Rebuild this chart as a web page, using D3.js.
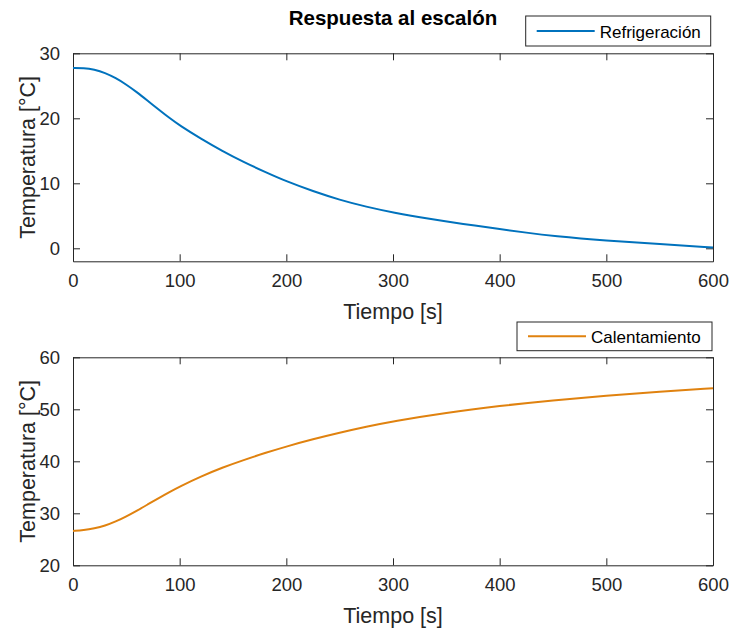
<!DOCTYPE html>
<html>
<head>
<meta charset="utf-8">
<script src="https://cdn.jsdelivr.net/npm/d3@7"></script>
<style>
  body { margin: 0; background: #fff; }
  svg { font-family: "Liberation Sans", Arial, sans-serif; }
</style>
</head>
<body>
<svg id="chart" width="732" height="631"></svg>
<script>
// time samples [s] and step responses [°C]
const timeCool = [0, 10, 20, 30, 40, 50, 60, 70, 80, 90, 100, 120, 140, 160, 180, 200, 225, 250, 275, 300, 335, 365, 400, 425, 450, 500, 550, 600];
const tempCool = [27.75, 27.75, 27.5, 27.0, 26.2, 25.2, 24.0, 22.7, 21.4, 20.1, 18.9, 16.85, 14.97, 13.27, 11.75, 10.3, 8.78, 7.45, 6.38, 5.5, 4.5, 3.75, 2.97, 2.4, 1.9, 1.18, 0.65, 0.12];

const timeHeat = [0, 10, 20, 30, 40, 50, 60, 70, 80, 90, 100, 120, 140, 160, 180, 200, 225, 250, 275, 300, 350, 400, 450, 500, 550, 600];
const tempHeat = [26.6, 26.75, 27.1, 27.6, 28.4, 29.4, 30.5, 31.7, 32.9, 34.05, 35.15, 37.1, 38.8, 40.25, 41.6, 42.85, 44.25, 45.5, 46.65, 47.7, 49.35, 50.65, 51.75, 52.6, 53.4, 54.05];

const xTicks = [0, 100, 200, 300, 400, 500, 600];
const yTicksCool = [0, 10, 20, 30];
const yTicksHeat = [20, 30, 40, 50, 60];

const svg = d3.select("#chart");
const axisColor = "#262626";
const tickLen = 7;

const panels = [
  {
    t: timeCool, v: tempCool, yDomain: [-2, 30], yTicks: yTicksCool,
    top: 53.3, bottom: 261.3, color: "#0072BD", name: "Refrigeración",
    legend: { x: 525.7, y: 16, w: 185, h: 30 }
  },
  {
    t: timeHeat, v: tempHeat, yDomain: [20, 60], yTicks: yTicksHeat,
    top: 357.3, bottom: 565.3, color: "#E0820F", name: "Calentamiento",
    legend: { x: 517, y: 322, w: 195, h: 28.7 }
  }
];

const left = 73, right = 713;

svg.append("text")
  .attr("x", (left + right) / 2)
  .attr("y", 25)
  .attr("text-anchor", "middle")
  .style("font-weight", "bold")
  .style("font-size", "20.5px")
  .attr("fill", "#000")
  .text("Respuesta al escalón");

panels.forEach((p) => {
  const x = d3.scaleLinear().domain([0, 600]).range([left, right]);
  const y = d3.scaleLinear().domain(p.yDomain).range([p.bottom, p.top]);
  const g = svg.append("g");

  // bottom axis
  g.append("g")
    .attr("transform", `translate(0,${p.bottom})`)
    .call(d3.axisBottom(x).tickValues(xTicks).tickSizeInner(-tickLen).tickSizeOuter(0).tickPadding(13))
    .call((a) => {
      a.select(".domain").attr("stroke", axisColor);
      a.selectAll(".tick line").attr("stroke", axisColor);
      a.selectAll(".tick text").attr("fill", axisColor).style("font-size", "18.5px").attr("font-family", null);
    });

  // top mirrored ticks
  g.append("g")
    .attr("transform", `translate(0,${p.top})`)
    .call(d3.axisTop(x).tickValues(xTicks).tickSizeInner(-tickLen).tickSizeOuter(0).tickFormat(""))
    .call((a) => {
      a.select(".domain").attr("stroke", axisColor);
      a.selectAll(".tick line").attr("stroke", axisColor);
    });

  // left axis
  g.append("g")
    .attr("transform", `translate(${left},0)`)
    .call(d3.axisLeft(y).tickValues(p.yTicks).tickSizeInner(-tickLen).tickSizeOuter(0).tickPadding(13))
    .call((a) => {
      a.select(".domain").attr("stroke", axisColor);
      a.selectAll(".tick line").attr("stroke", axisColor);
      a.selectAll(".tick text").attr("fill", axisColor).style("font-size", "18.5px").attr("font-family", null);
    });

  // right mirrored ticks
  g.append("g")
    .attr("transform", `translate(${right},0)`)
    .call(d3.axisRight(y).tickValues(p.yTicks).tickSizeInner(-tickLen).tickSizeOuter(0).tickFormat(""))
    .call((a) => {
      a.select(".domain").attr("stroke", axisColor);
      a.selectAll(".tick line").attr("stroke", axisColor);
    });

  // axis labels
  g.append("text")
    .attr("x", (left + right) / 2)
    .attr("y", p.bottom + 58)
    .attr("text-anchor", "middle")
    .attr("fill", axisColor)
    .style("font-size", "21.5px")
    .text("Tiempo [s]");

  g.append("text")
    .attr("transform", `translate(35,${(p.top + p.bottom) / 2}) rotate(-90)`)
    .attr("text-anchor", "middle")
    .attr("fill", axisColor)
    .style("font-size", "21.5px")
    .text("Temperatura [°C]");

  // data line
  const line = d3.line()
    .x((d, i) => x(p.t[i]))
    .y((d) => y(d))
    .curve(d3.curveBasis);

  g.append("path")
    .attr("d", line(p.v))
    .attr("fill", "none")
    .attr("stroke", p.color)
    .attr("stroke-width", 2);

  // legend
  const lg = svg.append("g").attr("transform", `translate(${p.legend.x},${p.legend.y})`);
  lg.append("rect")
    .attr("width", p.legend.w)
    .attr("height", p.legend.h)
    .attr("fill", "#fff")
    .attr("stroke", axisColor)
    .attr("stroke-width", 1);
  lg.append("line")
    .attr("x1", 11).attr("x2", 69)
    .attr("y1", p.legend.h / 2).attr("y2", p.legend.h / 2)
    .attr("stroke", p.color)
    .attr("stroke-width", 2);
  lg.append("text")
    .attr("x", 74)
    .attr("y", p.legend.h / 2 + 7)
    .attr("fill", "#000")
    .style("font-size", "17px")
    .text(p.name);
});
</script>
</body>
</html>
